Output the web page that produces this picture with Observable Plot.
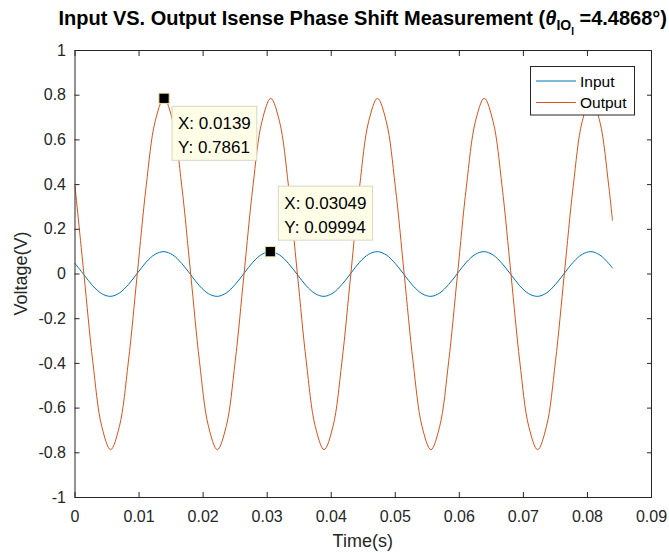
<!DOCTYPE html>
<html>
<head>
<meta charset="utf-8">
<script src="https://cdn.jsdelivr.net/npm/d3@7"></script>
<script src="https://cdn.jsdelivr.net/npm/@observablehq/plot@0.6"></script>
<style>
  html, body { margin: 0; padding: 0; background: #fff; }
  svg text { font-family: "Liberation Sans", Arial, Helvetica, sans-serif; }
</style>
</head>
<body>
<div id="chart"></div>
<script>
// ---- data ----
const time = [
  0, 0.00139, 0.00278, 0.00417, 0.00556, 0.00694, 0.00833, 0.00972, 0.01111, 0.0125,
  0.01389, 0.01528, 0.01667, 0.01806, 0.01944, 0.02083, 0.02222, 0.02361, 0.025, 0.02639,
  0.02778, 0.02917, 0.03056, 0.03194, 0.03333, 0.03472, 0.03611, 0.0375, 0.03889, 0.04028,
  0.04167, 0.04306, 0.04444, 0.04583, 0.04722, 0.04861, 0.05, 0.05139, 0.05278, 0.05417,
  0.05556, 0.05694, 0.05833, 0.05972, 0.06111, 0.0625, 0.06389, 0.06528, 0.06667, 0.06806,
  0.06944, 0.07083, 0.07222, 0.07361, 0.075, 0.07639, 0.07778, 0.07917, 0.08056, 0.08194,
  0.08333, 0.0839
];
const inputV = [
  0.047, -0.003, -0.053, -0.088, -0.100, -0.085, -0.047, 0.003, 0.053, 0.088, 0.100, 0.085,
  0.047, -0.003, -0.053, -0.088, -0.100, -0.085, -0.047, 0.003, 0.053, 0.088, 0.100, 0.085,
  0.047, -0.003, -0.053, -0.088, -0.100, -0.085, -0.047, 0.003, 0.053, 0.088, 0.100, 0.085,
  0.047, -0.003, -0.053, -0.088, -0.100, -0.085, -0.047, 0.003, 0.053, 0.088, 0.100, 0.085,
  0.047, -0.003, -0.053, -0.088, -0.100, -0.085, -0.047, 0.003, 0.053, 0.088, 0.100, 0.085,
  0.047, 0.027
];
const outputV = [
  0.393, 0, -0.393, -0.681, -0.786, -0.681, -0.393, 0, 0.393, 0.681, 0.786, 0.681,
  0.393, 0, -0.393, -0.681, -0.786, -0.681, -0.393, 0, 0.393, 0.681, 0.786, 0.681,
  0.393, 0, -0.393, -0.681, -0.786, -0.681, -0.393, 0, 0.393, 0.681, 0.786, 0.681,
  0.393, 0, -0.393, -0.681, -0.786, -0.681, -0.393, 0, 0.393, 0.681, 0.786, 0.681,
  0.393, 0, -0.393, -0.681, -0.786, -0.681, -0.393, 0, 0.393, 0.681, 0.786, 0.681,
  0.393, 0.24
];
const seriesNames = ["Input", "Output"];
const seriesColors = ["#0072BD", "#D95319"];
const xTicks = [0, 0.01, 0.02, 0.03, 0.04, 0.05, 0.06, 0.07, 0.08, 0.09];
const yTicks = [-1, -0.8, -0.6, -0.4, -0.2, 0, 0.2, 0.4, 0.6, 0.8, 1];
const tipX = [0.0139, 0.03049];
const tipY = [0.7861, 0.09994];
const tipLabelX = ["X: 0.0139", "X: 0.03049"];
const tipLabelY = ["Y: 0.7861", "Y: 0.09994"];
const tipBelow = [true, false];

const inputData = time.map((t, i) => ({t, v: inputV[i]}));
const outputData = time.map((t, i) => ({t, v: outputV[i]}));
const tips = tipX.map((x, i) => ({x, y: tipY[i]}));

const fmt = d => String(Math.round(d * 100) / 100);
const ink = "#262626";

const plot = Plot.plot({
  width: 669,
  height: 553,
  marginLeft: 74.5,
  marginRight: 18,
  marginTop: 50,
  marginBottom: 56,
  style: {fontFamily: '"Liberation Sans", Arial, sans-serif', fontSize: "16px", color: ink, background: "#fff", overflow: "visible"},
  x: {domain: [0, 0.09]},
  y: {domain: [-1, 1]},
  marks: [
    Plot.lineY(inputData, {x: "t", y: "v", stroke: seriesColors[0], strokeWidth: 1, curve: "catmull-rom"}),
    Plot.lineY(outputData, {x: "t", y: "v", stroke: seriesColors[1], strokeWidth: 1, curve: "catmull-rom"}),
    Plot.frame({stroke: ink, strokeWidth: 1}),
    Plot.axisX({ticks: xTicks, anchor: "bottom", tickSize: 5, tickPadding: 8.5, tickFormat: fmt, label: null, stroke: ink}),
    Plot.axisX({ticks: xTicks, anchor: "top", tickSize: 5, tickFormat: () => "", label: null, stroke: ink}),
    Plot.axisY({ticks: yTicks, anchor: "left", tickSize: 5, tickPadding: 4, tickFormat: fmt, label: null, stroke: ink}),
    Plot.axisY({ticks: yTicks, anchor: "right", tickSize: 5, tickFormat: () => "", label: null, stroke: ink}),
    Plot.dot(tips, {x: "x", y: "y", symbol: "square", r: 5.8, fill: "#000", stroke: "#efe3a6", strokeWidth: 1})
  ]
});

document.getElementById("chart").appendChild(plot);
const svg = d3.select(plot);

// ticks point inward (MATLAB box style)
svg.selectAll('g[aria-label="x-axis tick"] path, g[aria-label="y-axis tick"] path').each(function () {
  const d = this.getAttribute("d");
  if (!d) return;
  this.setAttribute("d", d.replace(/L(-?[\d.]+),(-?[\d.]+)/, (m, a, b) => `L${-a},${-b}`));
});

const sx = plot.scale("x"), sy = plot.scale("y");
const x0 = sx.apply(0), x1 = sx.apply(0.09);
const yTop = sy.apply(1), yBot = sy.apply(-1);
const cx = (x0 + x1) / 2;

// title
const title = svg.append("text")
  .attr("x", cx).attr("y", 25).attr("text-anchor", "middle")
  .attr("font-size", 20).attr("font-weight", "bold").attr("fill", "#000");
title.append("tspan").text("Input VS. Output Isense Phase Shift Measurement (");
title.append("tspan").attr("font-style", "italic").text("θ");
title.append("tspan").attr("font-size", 14).attr("dy", 5).text("IO");
title.append("tspan").attr("font-size", 10).attr("dy", 5).text("I");
title.append("tspan").attr("dy", -10).text(" =4.4868°)");

// axis labels
svg.append("text").attr("x", cx).attr("y", 547).attr("text-anchor", "middle")
  .attr("font-size", 18).attr("fill", ink).text("Time(s)");
svg.append("text").attr("transform", `translate(26.5,${(yTop + yBot) / 2}) rotate(-90)`)
  .attr("text-anchor", "middle").attr("font-size", 18).attr("fill", ink).text("Voltage(V)");

// legend
const lg = svg.append("g").attr("text-anchor", "start");
lg.append("rect").attr("x", 530.5).attr("y", 66.5).attr("width", 104).attr("height", 48.5)
  .attr("fill", "#fff").attr("stroke", ink).attr("stroke-width", 1);
seriesNames.forEach((name, i) => {
  const yy = 81 + i * 21.5;
  lg.append("line").attr("x1", 536).attr("x2", 576).attr("y1", yy).attr("y2", yy)
    .attr("stroke", seriesColors[i]).attr("stroke-width", 1);
  lg.append("text").attr("x", 580).attr("y", yy + 5.5).attr("font-size", 15.5).attr("fill", "#000").text(name);
});

// data tips
tips.forEach((d, i) => {
  const px = sx.apply(d.x), py = sy.apply(d.y);
  const g = svg.append("g").attr("text-anchor", "start");
  const rect = g.append("rect").attr("fill", "#ffffe8").attr("stroke", "#d6d6c4").attr("stroke-width", 1);
  const left = px + 8.5;
  const top = tipBelow[i] ? py + 8.5 : py - 65;
  const t1 = g.append("text").attr("x", left + 6).attr("y", top + 23).attr("font-size", 17).attr("fill", "#000").text(tipLabelX[i]);
  const t2 = g.append("text").attr("x", left + 6).attr("y", top + 46.5).attr("font-size", 17).attr("fill", "#000").text(tipLabelY[i]);
  const w = Math.max(t1.node().getComputedTextLength(), t2.node().getComputedTextLength()) + 12;
  rect.attr("x", left).attr("y", top).attr("width", w).attr("height", 54);
});
</script>
</body>
</html>
